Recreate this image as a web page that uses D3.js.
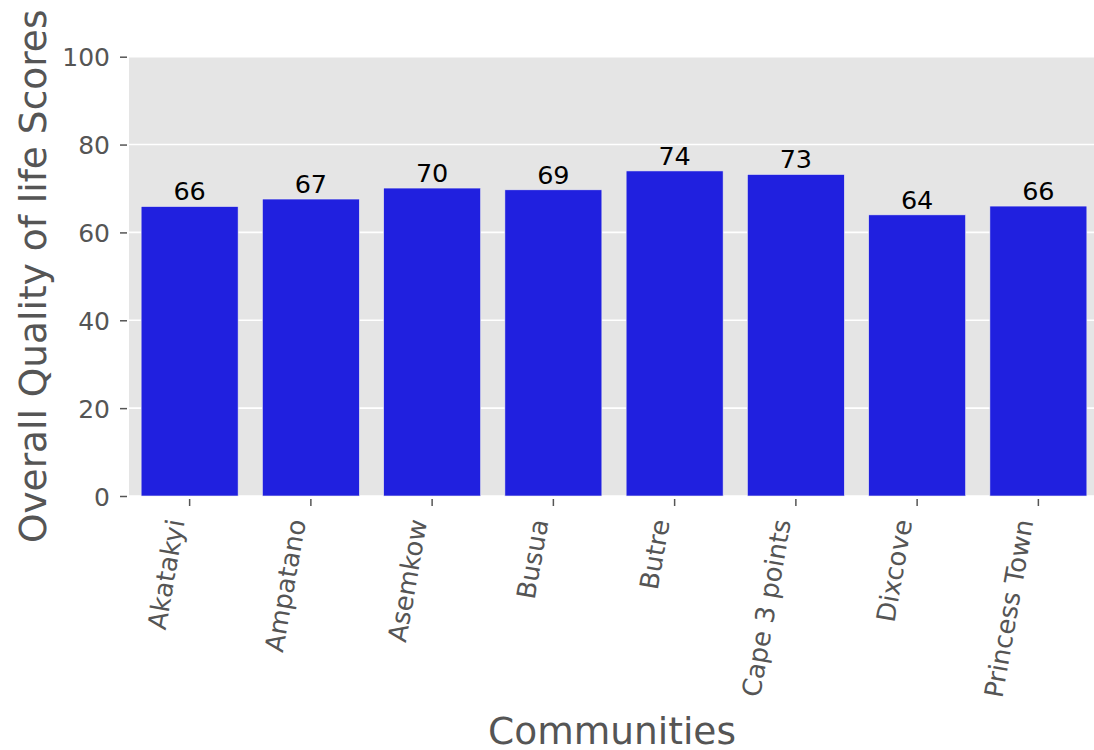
<!DOCTYPE html>
<html>
<head>
<meta charset="utf-8">
<script src="https://cdn.jsdelivr.net/npm/d3@7"></script>
<style>
  html, body { margin: 0; padding: 0; background: #fff; }
  svg { display: block; font-family: "DejaVu Sans", sans-serif; }
</style>
</head>
<body>
<svg id="chart" width="1094" height="750"></svg>
<script>
const categories = ["Akatakyi", "Ampatano", "Asemkow", "Busua", "Butre", "Cape 3 points", "Dixcove", "Princess Town"];
const scores = [65.9, 67.6, 70.1, 69.7, 74.0, 73.2, 64.0, 66.0];
const scoreLabels = ["66", "67", "70", "69", "74", "73", "64", "66"];
const yTicks = [0, 20, 40, 60, 80, 100];
const xTitle = "Communities";
const yTitle = "Overall Quality of life Scores";

const W = 1094, H = 750;
const m = { left: 129, right: 1099, top: 56.7, bottom: 496 };
const svg = d3.select("#chart");

const x = d3.scaleBand().domain(categories).range([m.left, m.right]).paddingInner(0.2).paddingOuter(0.1);
const y = d3.scaleLinear().domain([0, 100]).range([m.bottom, m.top]);

// panel background
svg.append("rect")
  .attr("x", m.left).attr("y", m.top)
  .attr("width", m.right - m.left).attr("height", m.bottom - m.top)
  .attr("fill", "#E5E5E5");

// grid lines
svg.append("g").selectAll("line").data(yTicks).join("line")
  .attr("x1", m.left).attr("x2", m.right)
  .attr("y1", d => y(d)).attr("y2", d => y(d))
  .attr("stroke", "#ffffff").attr("stroke-width", 1.6);

// bars
svg.append("g").selectAll("rect").data(categories).join("rect")
  .attr("x", d => x(d))
  .attr("width", x.bandwidth())
  .attr("y", (d, i) => y(scores[i]))
  .attr("height", (d, i) => y(0) - y(scores[i]))
  .attr("fill", "#2020DF")
  .attr("stroke", "#EEEEEE").attr("stroke-width", 0.6);

// bar value labels
svg.append("g").selectAll("text").data(categories).join("text")
  .attr("x", d => x(d) + x.bandwidth() / 2)
  .attr("y", (d, i) => y(scores[i]) - 6.3)
  .attr("text-anchor", "middle")
  .attr("font-size", 25.5)
  .attr("fill", "#000")
  .text((d, i) => scoreLabels[i]);

// y axis
const yAxis = svg.append("g").attr("transform", `translate(${m.left},0)`)
  .call(d3.axisLeft(y).tickValues(yTicks).tickSize(7).tickPadding(12).tickFormat(d3.format("d")));
yAxis.select(".domain").remove();
yAxis.selectAll(".tick line").attr("stroke", "#555").attr("stroke-width", 1.5).attr("transform", "translate(-2,0)");
yAxis.selectAll(".tick text").attr("fill", "#555").attr("font-size", 25)
  .attr("font-family", "DejaVu Sans, sans-serif").attr("dy", "0.36em");

// x axis
const xAxis = svg.append("g").attr("transform", `translate(0,${m.bottom})`)
  .call(d3.axisBottom(x).tickSize(10).tickFormat(""));
xAxis.select(".domain").remove();
xAxis.selectAll(".tick line").attr("stroke", "#555").attr("stroke-width", 1.5).attr("y1", 3);

// rotated x tick labels (matplotlib-like: rotate 80°, bbox right edge at tick, top-aligned)
const labTop = 517;
categories.forEach(c => {
  const g = svg.append("g");
  g.append("text")
    .attr("text-anchor", "middle")
    .attr("dominant-baseline", "central")
    .attr("transform", "rotate(-80)")
    .attr("font-size", 26)
    .attr("fill", "#555")
    .text(c);
  const bb = g.node().getBBox();
  const tx = x(c) + x.bandwidth() / 2;
  g.attr("transform", `translate(${tx - (bb.x + bb.width) + 1},${labTop - bb.y})`);
});

// axis titles
svg.append("text")
  .attr("x", (m.left + m.right) / 2 - 2).attr("y", 744)
  .attr("text-anchor", "middle")
  .attr("font-size", 37.5).attr("fill", "#555")
  .text(xTitle);

svg.append("text")
  .attr("transform", `translate(46,${(m.top + m.bottom) / 2}) rotate(-90)`)
  .attr("text-anchor", "middle")
  .attr("font-size", 37.5).attr("fill", "#555")
  .text(yTitle);
</script>
</body>
</html>
